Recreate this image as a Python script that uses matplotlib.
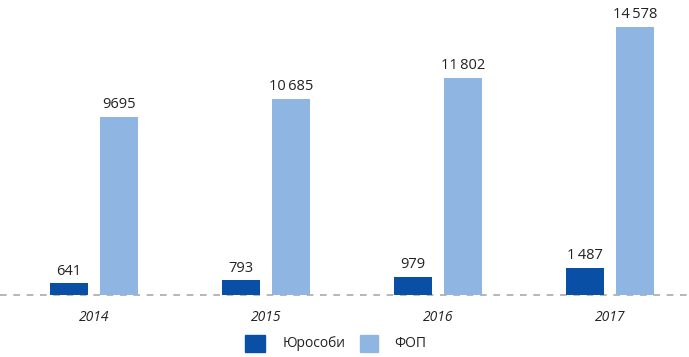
import matplotlib
matplotlib.use("Agg")
import matplotlib.pyplot as plt
from matplotlib.patches import Rectangle
import numpy as np

plt.rcParams['font.family'] = ['Open Sans', 'DejaVu Sans']

years = ["2014", "2015", "2016", "2017"]
legal = [641, 793, 979, 1487]
fop = [9695, 10685, 11802, 14578]
legal_labels = ["641", "793", "979", "1\u2009487"]
fop_labels = ["9695", "10\u2009685", "11\u2009802", "14\u2009578"]
series_names = ["Юрособи", "ФОП"]
dark = "#0a4fa6"
light = "#8fb6e3"

fig = plt.figure(figsize=(6.89, 3.57), dpi=100)
ax = fig.add_axes([0, 62/357, 1, 295/357])
x = np.arange(len(years))
w = 0.22
off = 0.145
b1 = ax.bar(x - off, legal, w, color=dark)
b2 = ax.bar(x + off, fop, w, color=light)
for bars, vals, labs in ((b1, legal, legal_labels), (b2, fop, fop_labels)):
    for r, v, lab in zip(bars, vals, labs):
        ax.text(r.get_x() + r.get_width()/2, v + 250, lab, ha='center', va='bottom',
                fontsize=10.5, color='#222222')
ax.set_xlim(-0.547, 3.459)
ax.set_ylim(0, 16047)
ax.axhline(0, color='#aaaaaa', lw=1.2, ls=(0, (4, 4)), clip_on=False, zorder=0)
ax.axis('off')
for xi, yr in zip(x, years):
    ax.text(xi, -1250, yr, ha='center', va='center', fontsize=10, style='italic', color='#222222')

# legend
fig.patches.append(Rectangle((245/689, 5/357), 20/689, 17/357, transform=fig.transFigure, color=dark))
fig.text(283/689, 13.5/357, series_names[0], ha='left', va='center', fontsize=10, color='#222222')
fig.patches.append(Rectangle((360/689, 5/357), 18/689, 17/357, transform=fig.transFigure, color=light))
fig.text(394/689, 13.5/357, series_names[1], ha='left', va='center', fontsize=10, color='#222222')

fig.savefig("out.png", dpi=100)
